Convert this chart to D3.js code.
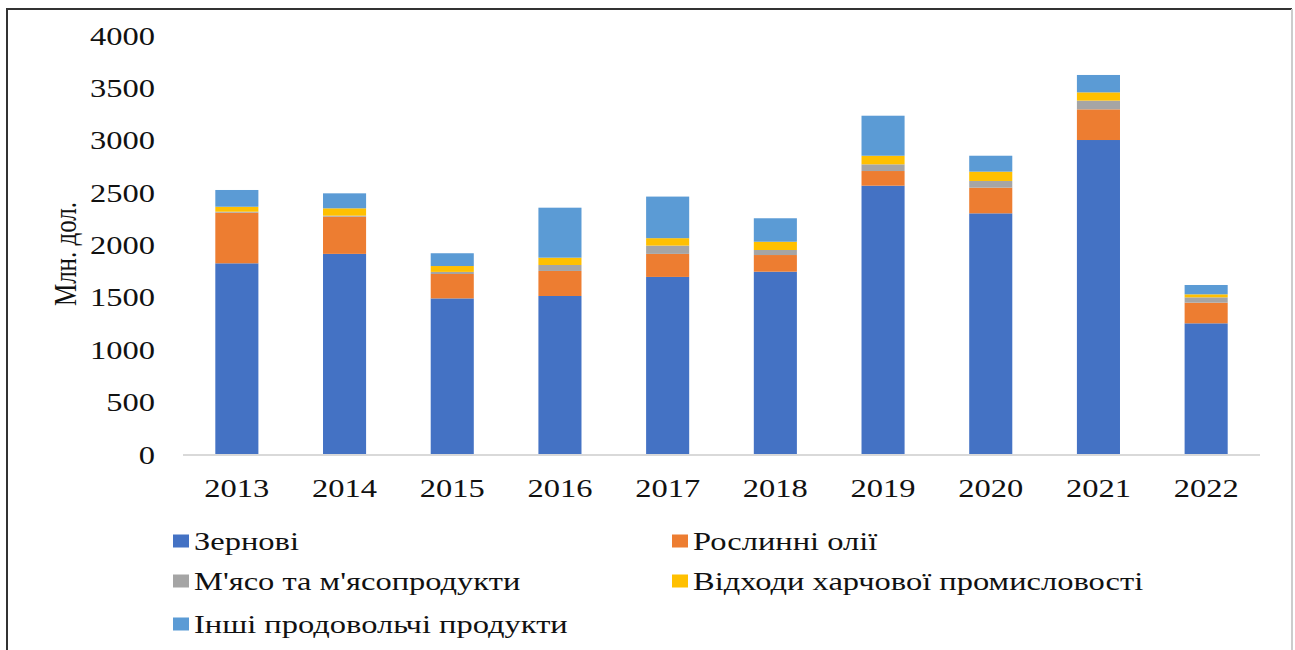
<!DOCTYPE html>
<meta charset="utf-8"/>
<html>
  <head>
    <script src="https://d3js.org/d3.v7.min.js"></script>
    <style>
      body { margin: 0; background: #fff; }
      text { font-family: 'Liberation Serif', 'Times New Roman', serif; fill: #111; }
    </style>
  </head>
  <body>
<script type="text/javascript">
// values, mln USD
var years = ['2013', '2014', '2015', '2016', '2017', '2018', '2019', '2020', '2021', '2022'];
var grain = [1830, 1920, 1495, 1518, 1700, 1750, 2571, 2307, 3007, 1257];
var oils  = [483, 355, 233, 239, 220, 159, 140, 245, 293, 197];
var meat  = [10, 10, 20, 57, 79, 48, 64, 64, 83, 51];
var waste = [47, 70, 56, 70, 71, 79, 82, 89, 79, 29];
var other = [160, 143, 122, 477, 397, 224, 382, 152, 166, 89];
var yTicks = [0, 500, 1000, 1500, 2000, 2500, 3000, 3500, 4000];
var seriesNames = ['Зернові', 'Рослинні олії', "М'ясо та м'ясопродукти", 'Відходи харчової промисловості', 'Інші продовольчі продукти'];
var seriesColors = ['#4472C4', '#ED7D31', '#A5A5A5', '#FFC000', '#5B9BD5'];

var width = 1295;
var height = 650;
var sx = 1.3; // the picture is stretched sideways, so the text is too
var fontSize = 25;

var svg = d3.select('body').append('svg')
    .attr('width', width)
    .attr('height', height);

// frame
svg.append('line').attr('x1', 7).attr('y1', 9).attr('x2', 1292).attr('y2', 9)
    .attr('stroke', '#333').attr('stroke-width', 2);
svg.append('line').attr('x1', 7).attr('y1', 8).attr('x2', 7).attr('y2', height)
    .attr('stroke', '#333').attr('stroke-width', 2);
svg.append('line').attr('x1', 1292).attr('y1', 9).attr('x2', 1292).attr('y2', height)
    .attr('stroke', '#ccc').attr('stroke-width', 2);

var rows = years.map(function(y, i) {
  return {year: y, s0: grain[i], s1: oils[i], s2: meat[i], s3: waste[i], s4: other[i]};
});
var stack = d3.stack().keys(['s0', 's1', 's2', 's3', 's4']);
var layers = stack(rows);

var x = d3.scaleBand()
    .domain(years)
    .range([183, 1260])
    .paddingInner(0.6)
    .paddingOuter(0.3);
var y = d3.scaleLinear()
    .domain([0, 4000])
    .range([455, 36]);

svg.append('g')
    .selectAll('g')
    .data(layers)
    .enter()
    .append('g')
    .attr('fill', function(d, i) { return seriesColors[i]; })
    .selectAll('rect')
    .data(function(d) { return d; })
    .enter()
    .append('rect')
    .attr('x', function(d) { return x(d.data.year); })
    .attr('width', x.bandwidth())
    .attr('y', function(d) { return y(d[1]); })
    .attr('height', function(d) { return y(d[0]) - y(d[1]); });

// baseline
svg.append('line')
    .attr('x1', 183).attr('x2', 1260)
    .attr('y1', y(0)).attr('y2', y(0))
    .attr('stroke', '#d9d9d9').attr('stroke-width', 2);

// y tick labels
svg.append('g')
    .selectAll('text')
    .data(yTicks)
    .enter()
    .append('text')
    .attr('text-anchor', 'end')
    .attr('font-size', fontSize)
    .attr('transform', function(d) { return 'translate(155,' + (y(d) + 8.5) + ') scale(' + sx + ',1)'; })
    .text(function(d) { return d; });

// x labels
svg.append('g')
    .selectAll('text')
    .data(years)
    .enter()
    .append('text')
    .attr('text-anchor', 'middle')
    .attr('font-size', fontSize)
    .attr('transform', function(d) { return 'translate(' + (x(d) + x.bandwidth() / 2) + ',497) scale(' + sx + ',1)'; })
    .text(function(d) { return d; });

// y title
svg.append('text')
    .attr('text-anchor', 'middle')
    .attr('font-size', fontSize)
    .attr('transform', 'translate(76,254) scale(' + sx + ',1) rotate(-90)')
    .text('Млн. дол.');

// legend
var legendPos = [[173, 541], [672, 541], [173, 581], [672, 581], [173, 624]];
var legend = svg.append('g')
    .selectAll('g')
    .data(seriesNames)
    .enter()
    .append('g')
    .attr('transform', function(d, i) { return 'translate(' + legendPos[i][0] + ',' + legendPos[i][1] + ')'; });
legend.append('rect')
    .attr('x', 0).attr('y', -6.5)
    .attr('width', 16).attr('height', 13)
    .attr('fill', function(d, i) { return seriesColors[i]; });
legend.append('text')
    .attr('font-size', fontSize)
    .attr('transform', 'translate(21,8.5) scale(' + sx + ',1)')
    .text(function(d) { return d; });
</script>
  </body>
</html>
